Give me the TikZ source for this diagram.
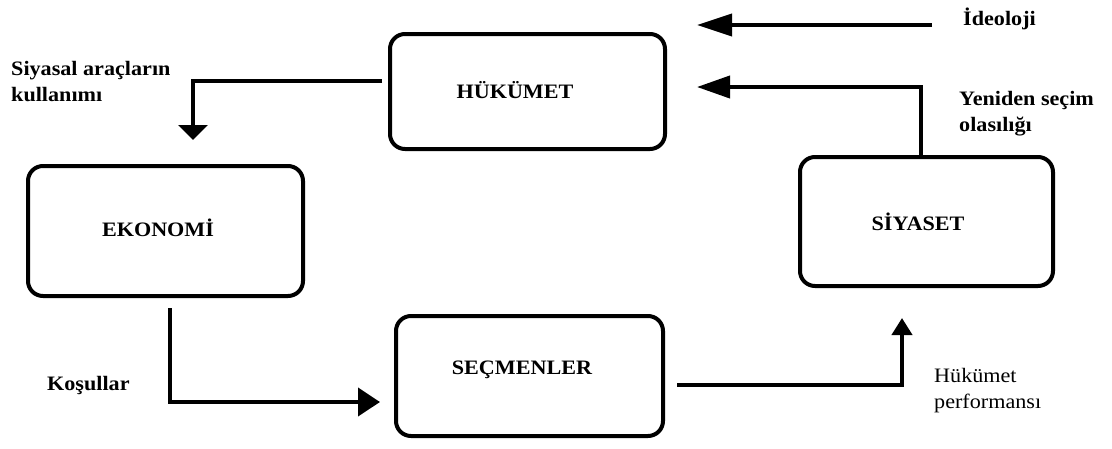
\documentclass[tikz,border=0pt]{standalone}
\usepackage{fontspec}
\setmainfont[FakeStretch=1.08]{Liberation Serif}
\usetikzlibrary{arrows.meta,calc}

\tikzset{
  box/.style={draw=black, line width=4pt, rounded corners=15pt, outer sep=0pt, inner sep=0pt, fill=white},
  boxtext/.style={font=\fontsize{20.5}{26}\selectfont\bfseries, inner sep=0pt},
  lbl/.style={font=\fontsize{20.5}{26}\selectfont\bfseries, align=left, anchor=west, inner sep=0pt},
  lblreg/.style={font=\fontsize{20.5}{26}\selectfont, align=left, anchor=west, inner sep=0pt},
  conn/.style={draw=black, line width=4pt},
}

\begin{document}
\begin{tikzpicture}[x=1pt, y=-1pt]
  \useasboundingbox (0,0) rectangle (1112,448);
  \fill[white] (0,0) rectangle (1112,448);

  % the four blocks
  \node[box, minimum width=275pt, minimum height=115pt] (hukumet) at (527.5,91.5) {};
  \node[box, minimum width=275pt, minimum height=130pt] (ekonomi) at (165.5,231) {};
  \node[box, minimum width=253pt, minimum height=129pt] (siyaset) at (926.5,221.5) {};
  \node[box, minimum width=267pt, minimum height=120pt] (secmen) at (529.5,376) {};

  \node[boxtext] (hukumetT) at (515,90) {HÜKÜMET};
  \node[boxtext] (ekonomiT) at (158,228) {EKONOMİ};
  \node[boxtext] (siyasetT) at (918,222) {SİYASET};
  \node[boxtext] (secmenT)  at (522,370) {SEÇMENLER};

  % free ends of the connectors
  \coordinate (ideoS) at (932,25);
  \coordinate (ideoE) at (697,25);
  \coordinate (secimE) at (697,87);
  \coordinate (aracS) at (382,81);
  \coordinate (aracE) at (193,140);
  \coordinate (kosS) at (170,308);
  \coordinate (kosE) at (380,402);
  \coordinate (perfS) at (677,385);
  \coordinate (perfE) at (902,318);

  % connectors
  \draw[conn, -{Triangle[length=35pt,width=22pt]}] (ideoS) -- (ideoE);
  \draw[conn, -{Triangle[length=33pt,width=22pt]}] ([xshift=-5.5pt]siyaset.north) |- (secimE);
  \draw[conn, -{Triangle[length=15pt,width=29pt]}] (aracS) -| (aracE);
  \draw[conn, -{Triangle[length=22pt,width=28pt]}] (kosS) |- (kosE);
  \draw[conn, -{Triangle[length=17pt,width=20pt]}] (perfS) -| (perfE);

  % labels
  \node[lbl] (ideoL) at (963,19) {İdeoloji};
  \node[lbl] (secimL) at (959,114) {Yeniden seçim\\olasılığı};
  \node[lbl] (aracL) at (11,82) {Siyasal araçların\\kullanımı};
  \node[lbl] (kosL) at (47,385) {Koşullar};
  \node[lblreg] (perfL) at (934,391) {Hükümet\\performansı};
\end{tikzpicture}
\end{document}
